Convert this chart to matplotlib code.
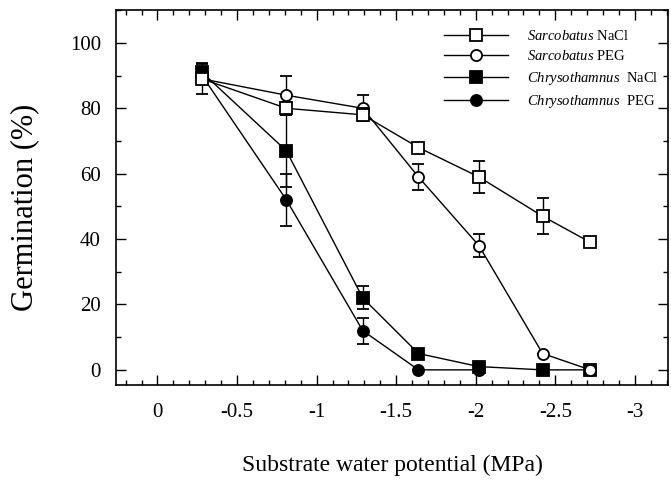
import matplotlib
matplotlib.use("Agg")
import matplotlib.pyplot as plt
from matplotlib.ticker import MultipleLocator

plt.rcParams["font.family"] = ["Liberation Serif", "DejaVu Serif"]
plt.rcParams["mathtext.fontset"] = "custom"
plt.rcParams["mathtext.rm"] = "Liberation Serif"
plt.rcParams["mathtext.it"] = "Liberation Serif:italic"
plt.rcParams["axes.unicode_minus"] = False

# water potential (MPa) for each treatment level
potential = [-0.28, -0.81, -1.29, -1.64, -2.02, -2.42, -2.72]

# germination (%) and error bars
sarc_nacl = [89, 80, 78, 68, 59, 47, 39]
sarc_nacl_err = [4.5, 2, 2, 0, 5, 5.5, 0]
sarc_peg = [89, 84, 80, 59, 38, 5, 0]
sarc_peg_err = [0, 6, 4, 4, 3.5, 0, 0]
chry_nacl = [91, 67, 22, 5, 1, 0, 0]
chry_nacl_err = [3, 11, 3.5, 0, 0, 0, 0]
chry_peg = [90, 52, 12, 0, 0]
chry_peg_err = [0, 8, 4, 0, 0]

xtick_vals = [0, -0.5, -1, -1.5, -2, -2.5, -3]
xtick_labels = ["0", "-0.5", "-1", "-1.5", "-2", "-2.5", "-3"]
ytick_vals = [0, 20, 40, 60, 80, 100]

fig = plt.figure(figsize=(6.71, 4.86), dpi=100)
ax = fig.add_axes([0.173, 0.208, 0.823, 0.771])

common = dict(color="black", lw=1.0, ms=8, mew=1.3, elinewidth=1.0,
              capsize=4.5, capthick=1.3)

cp = ax.errorbar(potential[:5], chry_peg, yerr=chry_peg_err, marker="o",
                 mfc="black", zorder=3, **common)
cn = ax.errorbar(potential, chry_nacl, yerr=chry_nacl_err, marker="s",
                 mfc="black", zorder=4, **common)
sp = ax.errorbar(potential, sarc_peg, yerr=sarc_peg_err, marker="o",
                 mfc="white", zorder=5, **common)
sn = ax.errorbar(potential, sarc_nacl, yerr=sarc_nacl_err, marker="s",
                 mfc="white", zorder=6, **common)

ax.set_xlim(0.26, -3.21)
ax.set_ylim(-4.6, 110)
ax.set_xticks(xtick_vals)
ax.set_xticklabels(xtick_labels)
ax.set_yticks(ytick_vals)
ax.xaxis.set_minor_locator(MultipleLocator(0.1))
ax.yaxis.set_minor_locator(MultipleLocator(10))
ax.tick_params(which="both", direction="in", top=True, right=True,
               labelsize=15, width=1.0)
ax.tick_params(which="major", length=7)
ax.tick_params(axis="x", which="major", pad=13)
ax.tick_params(axis="y", which="major", pad=11)
ax.tick_params(which="minor", length=3.5)
for s in ax.spines.values():
    s.set_linewidth(1.2)

ax.set_xlabel("Substrate water potential (MPa)", fontsize=17, labelpad=24)
ax.set_ylabel("Germination (%)", fontsize=22, labelpad=22, y=0.473)

labels = [r"$\mathit{Sarcobatus}$ NaCl", r"$\mathit{Sarcobatus}$ PEG",
          r"$\mathit{Chrysothamnus}$  NaCl", r"$\mathit{Chrysothamnus}$  PEG"]
ax.legend([sn[0], sp[0], cn[0], cp[0]], labels, loc="upper left",
          bbox_to_anchor=(0.581, 0.97), frameon=False, fontsize=10.5,
          handlelength=4.4, handletextpad=1.3, labelspacing=0.45, borderpad=0)

plt.savefig("out.png", dpi=100)
